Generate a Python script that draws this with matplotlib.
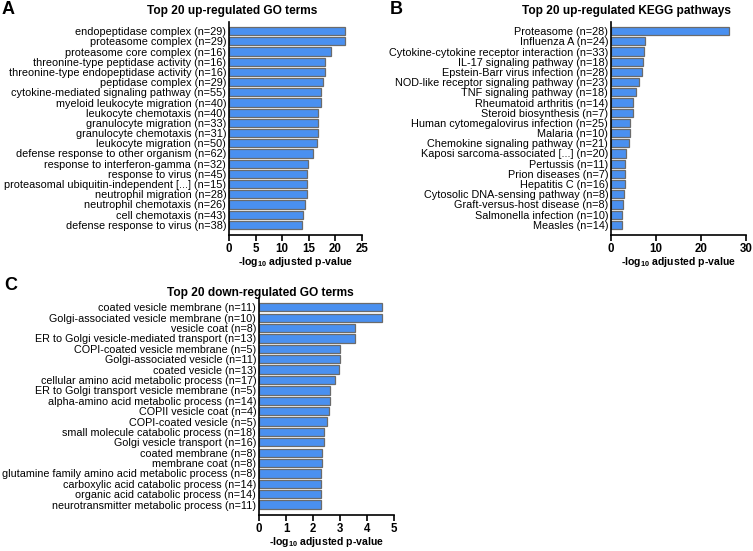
import matplotlib
matplotlib.use("Agg")
import matplotlib.pyplot as plt

plt.rcParams['font.family'] = ['Liberation Sans', 'DejaVu Sans']
plt.rcParams['mathtext.fontset'] = 'custom'
plt.rcParams['mathtext.bf'] = 'Liberation Sans:bold'

# panel A: up-regulated GO terms
go_up_terms = ["endopeptidase complex (n=29)", "proteasome complex (n=29)",
               "proteasome core complex (n=16)", "threonine-type peptidase activity (n=16)",
               "threonine-type endopeptidase activity (n=16)", "peptidase complex (n=29)",
               "cytokine-mediated signaling pathway (n=55)", "myeloid leukocyte migration (n=40)",
               "leukocyte chemotaxis (n=40)", "granulocyte migration (n=33)",
               "granulocyte chemotaxis (n=31)", "leukocyte migration (n=50)",
               "defense response to other organism (n=62)", "response to interferon-gamma (n=32)",
               "response to virus (n=45)", "proteasomal ubiquitin-independent [...] (n=15)",
               "neutrophil migration (n=28)", "neutrophil chemotaxis (n=26)",
               "cell chemotaxis (n=43)", "defense response to virus (n=38)"]
go_up_vals = [21.8, 21.8, 19.2, 18.1, 18.1, 17.7, 17.3, 17.3, 16.8, 16.8,
              16.7, 16.6, 15.7, 14.8, 14.7, 14.7, 14.6, 14.3, 13.9, 13.7]

# panel B: up-regulated KEGG pathways
kegg_terms = ["Proteasome (n=28)", "Influenza A (n=24)",
              "Cytokine-cytokine receptor interaction (n=33)", "IL-17 signaling pathway (n=18)",
              "Epstein-Barr virus infection (n=28)", "NOD-like receptor signaling pathway (n=23)",
              "TNF signaling pathway (n=18)", "Rheumatoid arthritis (n=14)",
              "Steroid biosynthesis (n=7)", "Human cytomegalovirus infection (n=25)",
              "Malaria (n=10)", "Chemokine signaling pathway (n=21)",
              "Kaposi sarcoma-associated [...] (n=20)", "Pertussis (n=11)",
              "Prion diseases (n=7)", "Hepatitis C (n=16)",
              "Cytosolic DNA-sensing pathway (n=8)", "Graft-versus-host disease (n=8)",
              "Salmonella infection (n=10)", "Measles (n=14)"]
kegg_vals = [26.2, 7.5, 7.3, 7.0, 6.9, 6.3, 5.5, 4.8, 4.8, 4.3,
             4.3, 4.1, 3.4, 3.2, 3.1, 3.0, 2.8, 2.6, 2.5, 2.5]

# panel C: down-regulated GO terms
go_down_terms = ["coated vesicle membrane (n=11)", "Golgi-associated vesicle membrane (n=10)",
                 "vesicle coat (n=8)", "ER to Golgi vesicle-mediated transport (n=13)",
                 "COPI-coated vesicle membrane (n=5)", "Golgi-associated vesicle (n=11)",
                 "coated vesicle (n=13)", "cellular amino acid metabolic process (n=17)",
                 "ER to Golgi transport vesicle membrane (n=5)", "alpha-amino acid metabolic process (n=14)",
                 "COPII vesicle coat (n=4)", "COPI-coated vesicle (n=5)",
                 "small molecule catabolic process (n=18)", "Golgi vesicle transport (n=16)",
                 "coated membrane (n=8)", "membrane coat (n=8)",
                 "glutamine family amino acid metabolic process (n=8)", "carboxylic acid catabolic process (n=14)",
                 "organic acid catabolic process (n=14)", "neurotransmitter metabolic process (n=11)"]
go_down_vals = [4.55, 4.55, 3.54, 3.54, 3.01, 3.01, 2.98, 2.83, 2.64, 2.64,
                2.58, 2.50, 2.39, 2.39, 2.34, 2.34, 2.31, 2.31, 2.31, 2.31]

W, H = 753, 551
fig = plt.figure(figsize=(W / 100, H / 100), dpi=100)


def panel(box, terms, vals, xmax, xticks, label_y, fs=7.85):
    # box in pixels: left, top, right, bottom
    l, t, r, b = box
    ax = fig.add_axes([l / W, (H - b) / H, (r - l) / W, (b - t) / H])
    ypos = list(range(len(terms)))
    ax.barh(ypos, vals, height=0.8, color='#4a90f0', edgecolor='#6b6b6b', linewidth=0.9)
    ax.set_yticks(ypos)
    ax.set_yticklabels(terms, fontsize=fs)
    ax.tick_params(axis='y', length=0, pad=2)
    ax.set_ylim(len(terms) - 1 + 1.0, -0.9)
    ax.set_xlim(0, xmax)
    ax.set_xticks(xticks)
    ax.tick_params(axis='x', labelsize=8.3, length=4, width=1.2, pad=2)
    for lab in ax.get_xticklabels():
        lab.set_fontweight('bold')
    for s in ['top', 'right']:
        ax.spines[s].set_visible(False)
    for s in ['left', 'bottom']:
        ax.spines[s].set_linewidth(1.2)
    fig.text((l + r) / 2 / W, 1 - label_y / H, r'-log$_{\mathbf{10}}$ adjusted p-value',
             ha='center', va='center', fontsize=7.6, fontweight='bold')
    return ax


panel((229, 22, 362, 235), go_up_terms, go_up_vals, 25, [0, 5, 10, 15, 20, 25], 262)
panel((611, 22, 746, 235), kegg_terms, kegg_vals, 30, [0, 10, 20, 30], 262)
panel((259, 298, 394, 515), go_down_terms, go_down_vals, 5, [0, 1, 2, 3, 4, 5], 542, fs=7.75)

# titles and panel letters
fig.text(232 / W, 1 - 11 / H, "Top 20 up-regulated GO terms", ha='center', va='center',
         fontsize=8.6, fontweight='bold')
fig.text(626 / W, 1 - 11 / H, "Top 20 up-regulated KEGG pathways", ha='center', va='center',
         fontsize=8.6, fontweight='bold')
fig.text(260 / W, 1 - 293 / H, "Top 20 down-regulated GO terms", ha='center', va='center',
         fontsize=8.6, fontweight='bold')
fig.text(2 / W, 1 - 10 / H, "A", ha='left', va='center', fontsize=13, fontweight='bold')
fig.text(390 / W, 1 - 10 / H, "B", ha='left', va='center', fontsize=13, fontweight='bold')
fig.text(4 / W, 1 - 285 / H, "C", ha='left', va='center', fontsize=13, fontweight='bold')

fig.savefig("out.png", dpi=100)
